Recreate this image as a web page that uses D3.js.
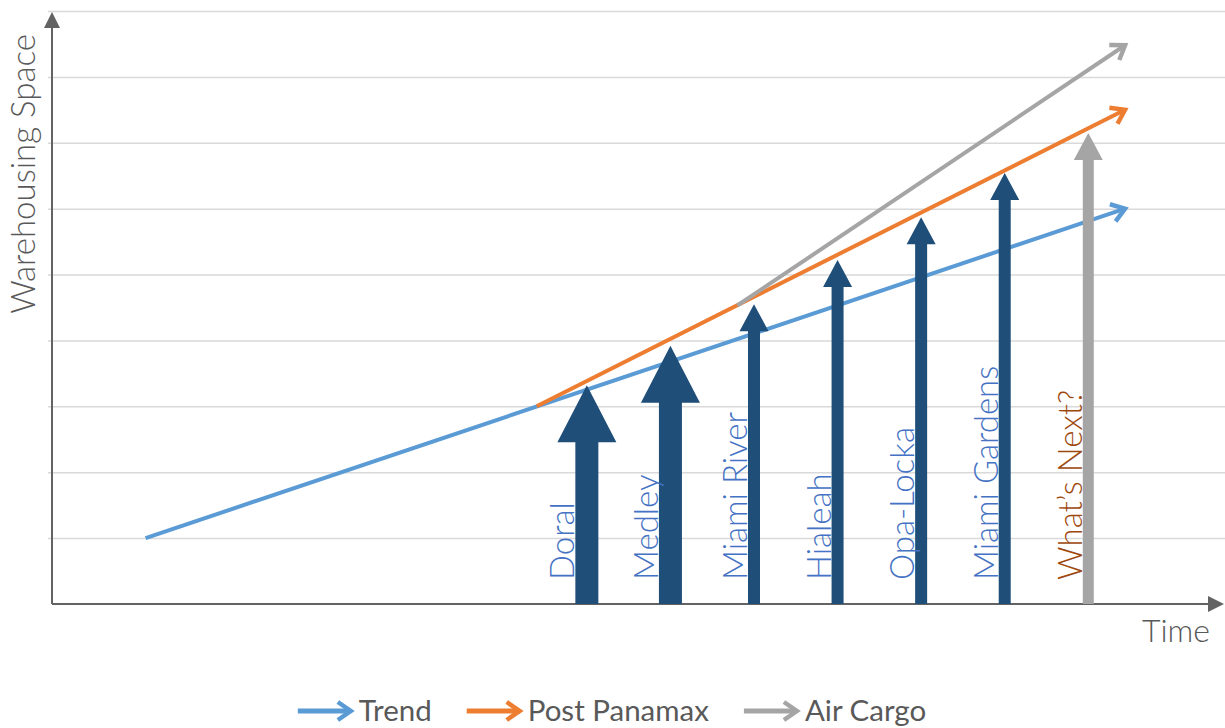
<!DOCTYPE html>
<html lang="en">
  <head>
    <title>Warehousing Space over Time</title>
    <style>
      body {
        margin: 0;
        padding: 0;
        background: #ffffff;
      }
      #chart {
        width: 1225px;
        height: 728px;
      }
      text {
        font-family: 'Lato', 'Liberation Sans', sans-serif;
      }
    </style>
  </head>
  <body>
    <div id="chart"></div>

    <script src="https://d3js.org/d3.v7.min.js"></script>
    <script>

    // sites (vertical arrows): time position and warehousing space reached
    var sites = ['Doral', 'Medley', 'Miami River', 'Hialeah', 'Opa-Locka', 'Miami Gardens', 'What\u2019s Next?'];
    var siteTimes = [6.4, 7.4, 8.4, 9.4, 10.4, 11.4, 12.4];
    var siteSpace = [3.32, 3.92, 4.55, 5.22, 5.87, 6.54, 7.15];

    // growth lines: start / end in time and space
    var seriesNames = ['Trend', 'Post Panamax', 'Air Cargo'];
    var seriesTimes = [[1.12, 12.84], [5.8, 12.84], [8.2, 12.84]];
    var seriesSpace = [[1, 6], [3, 7.5], [4.53, 8.48]];

    var gridValues = [1, 2, 3, 4, 5, 6, 7, 8, 9];

    var drawChart = function() {

      var width = 1225;
      var height = 728;
      var seriesColors = ['#5b9bd5', '#ed7d31', '#a5a5a5'];
      var axisColor = '#636363';

      var x = d3.scaleLinear().domain([0, 14]).range([52, 1222]);
      var y = d3.scaleLinear().domain([0, 9]).range([604, 11]);

      var svg = d3.select('#chart')
                  .append('svg')
                  .attr('width', width)
                  .attr('height', height);

      var defs = svg.append('defs');
      defs.selectAll('marker')
        .data(seriesColors)
        .enter()
        .append('marker')
        .attr('id', function(d, i) { return 'head' + i; })
        .attr('markerUnits', 'userSpaceOnUse')
        .attr('markerWidth', 26)
        .attr('markerHeight', 26)
        .attr('viewBox', '0 0 26 26')
        .attr('refX', 19)
        .attr('refY', 13)
        .attr('orient', 'auto')
        .append('path')
        .attr('d', 'M6,4 L19,13 L6,22')
        .attr('fill', 'none')
        .attr('stroke', function(d) { return d; })
        .attr('stroke-width', 4.5);

      // gridlines
      svg.append('g')
        .attr('transform', 'translate(48,0)')
        .call(d3.axisLeft(y).tickValues(gridValues).tickSize(-(width - 48)).tickFormat(''))
        .call(function(g) { g.select('.domain').remove(); })
        .selectAll('line')
        .attr('stroke', '#d9d9d9')
        .attr('stroke-width', 1.5);

      // axes with arrow heads
      svg.append('line')
        .attr('x1', x(0)).attr('y1', y(0))
        .attr('x2', x(0)).attr('y2', 26)
        .attr('stroke', axisColor)
        .attr('stroke-width', 2);
      svg.append('path')
        .attr('d', 'M' + x(0) + ',12 L' + (x(0) - 8) + ',28 L' + (x(0) + 8) + ',28 Z')
        .attr('fill', axisColor);
      svg.append('line')
        .attr('x1', x(0)).attr('y1', y(0))
        .attr('x2', 1210).attr('y2', y(0))
        .attr('stroke', axisColor)
        .attr('stroke-width', 2);
      svg.append('path')
        .attr('d', 'M1224,' + y(0) + ' L1208,' + (y(0) - 8) + ' L1208,' + (y(0) + 8) + ' Z')
        .attr('fill', axisColor);

      // growth lines
      svg.selectAll('.series')
        .data(seriesNames)
        .enter()
        .append('line')
        .attr('class', 'series')
        .attr('x1', function(d, i) { return x(seriesTimes[i][0]); })
        .attr('y1', function(d, i) { return y(seriesSpace[i][0]); })
        .attr('x2', function(d, i) { return x(seriesTimes[i][1]); })
        .attr('y2', function(d, i) { return y(seriesSpace[i][1]); })
        .attr('stroke', function(d, i) { return seriesColors[i]; })
        .attr('stroke-width', 4)
        .attr('marker-end', function(d, i) { return 'url(#head' + i + ')'; });

      // site arrows
      var shaft = function(i) { return i < 2 ? 23 : (i === 6 ? 11 : 12); };
      var headW = function(i) { return i < 2 ? 59 : 29; };
      var headH = function(i) { return i < 2 ? 57 : 27; };

      svg.selectAll('.site')
        .data(sites)
        .enter()
        .append('path')
        .attr('class', 'site')
        .attr('d', function(d, i) {
          var cx = x(siteTimes[i]);
          var top = y(siteSpace[i]);
          var s = shaft(i) / 2;
          var w = headW(i) / 2;
          var hb = top + headH(i);
          return 'M' + (cx - s) + ',' + y(0) +
                 ' L' + (cx - s) + ',' + hb +
                 ' L' + (cx - w) + ',' + hb +
                 ' L' + cx + ',' + top +
                 ' L' + (cx + w) + ',' + hb +
                 ' L' + (cx + s) + ',' + hb +
                 ' L' + (cx + s) + ',' + y(0) + ' Z';
        })
        .attr('fill', function(d, i) { return i === 6 ? '#a5a5a5' : '#1f4e79'; });

      svg.selectAll('.site-label')
        .data(sites)
        .enter()
        .append('text')
        .attr('class', 'site-label')
        .attr('transform', function(d, i) {
          return 'translate(' + (x(siteTimes[i]) - shaft(i) / 2 - 1) + ',580) rotate(-90)';
        })
        .attr('text-anchor', 'start')
        .style('font-size', '33px')
        .style('font-weight', 300)
        .style('fill', function(d, i) { return i === 6 ? '#9e480e' : '#4472c4'; })
        .text(function(d) { return d; });

      // axis titles
      svg.append('text')
        .attr('transform', 'translate(35,174) rotate(-90)')
        .attr('text-anchor', 'middle')
        .style('font-size', '33px')
        .style('font-weight', 300)
        .style('fill', '#595959')
        .text('Warehousing Space');

      svg.append('text')
        .attr('x', 1210)
        .attr('y', 642)
        .attr('text-anchor', 'end')
        .style('font-size', '32px')
        .style('font-weight', 300)
        .style('fill', '#595959')
        .text('Time');

      // legend
      var legend = svg.append('g');
      var items = legend.selectAll('g')
        .data(seriesNames)
        .enter()
        .append('g');
      items.append('line')
        .attr('x1', 0).attr('y1', 711)
        .attr('x2', 53).attr('y2', 711)
        .attr('stroke', function(d, i) { return seriesColors[i]; })
        .attr('stroke-width', 5)
        .attr('marker-end', function(d, i) { return 'url(#head' + i + ')'; });
      items.append('text')
        .attr('x', 61)
        .attr('y', 721)
        .style('font-size', '29.5px')
        .style('fill', '#595959')
        .text(function(d) { return d; });

      var offset = 0;
      var widths = [];
      items.each(function() {
        widths.push(61 + d3.select(this).select('text').node().getComputedTextLength());
      });
      var total = d3.sum(widths) + 35 * (widths.length - 1);
      var start = 612 - total / 2;
      items.attr('transform', function(d, i) {
        var t = 'translate(' + (start + offset) + ',0)';
        offset += widths[i] + 35;
        return t;
      });

    };

    window.onload = drawChart;

    </script>
  </body>
</html>
